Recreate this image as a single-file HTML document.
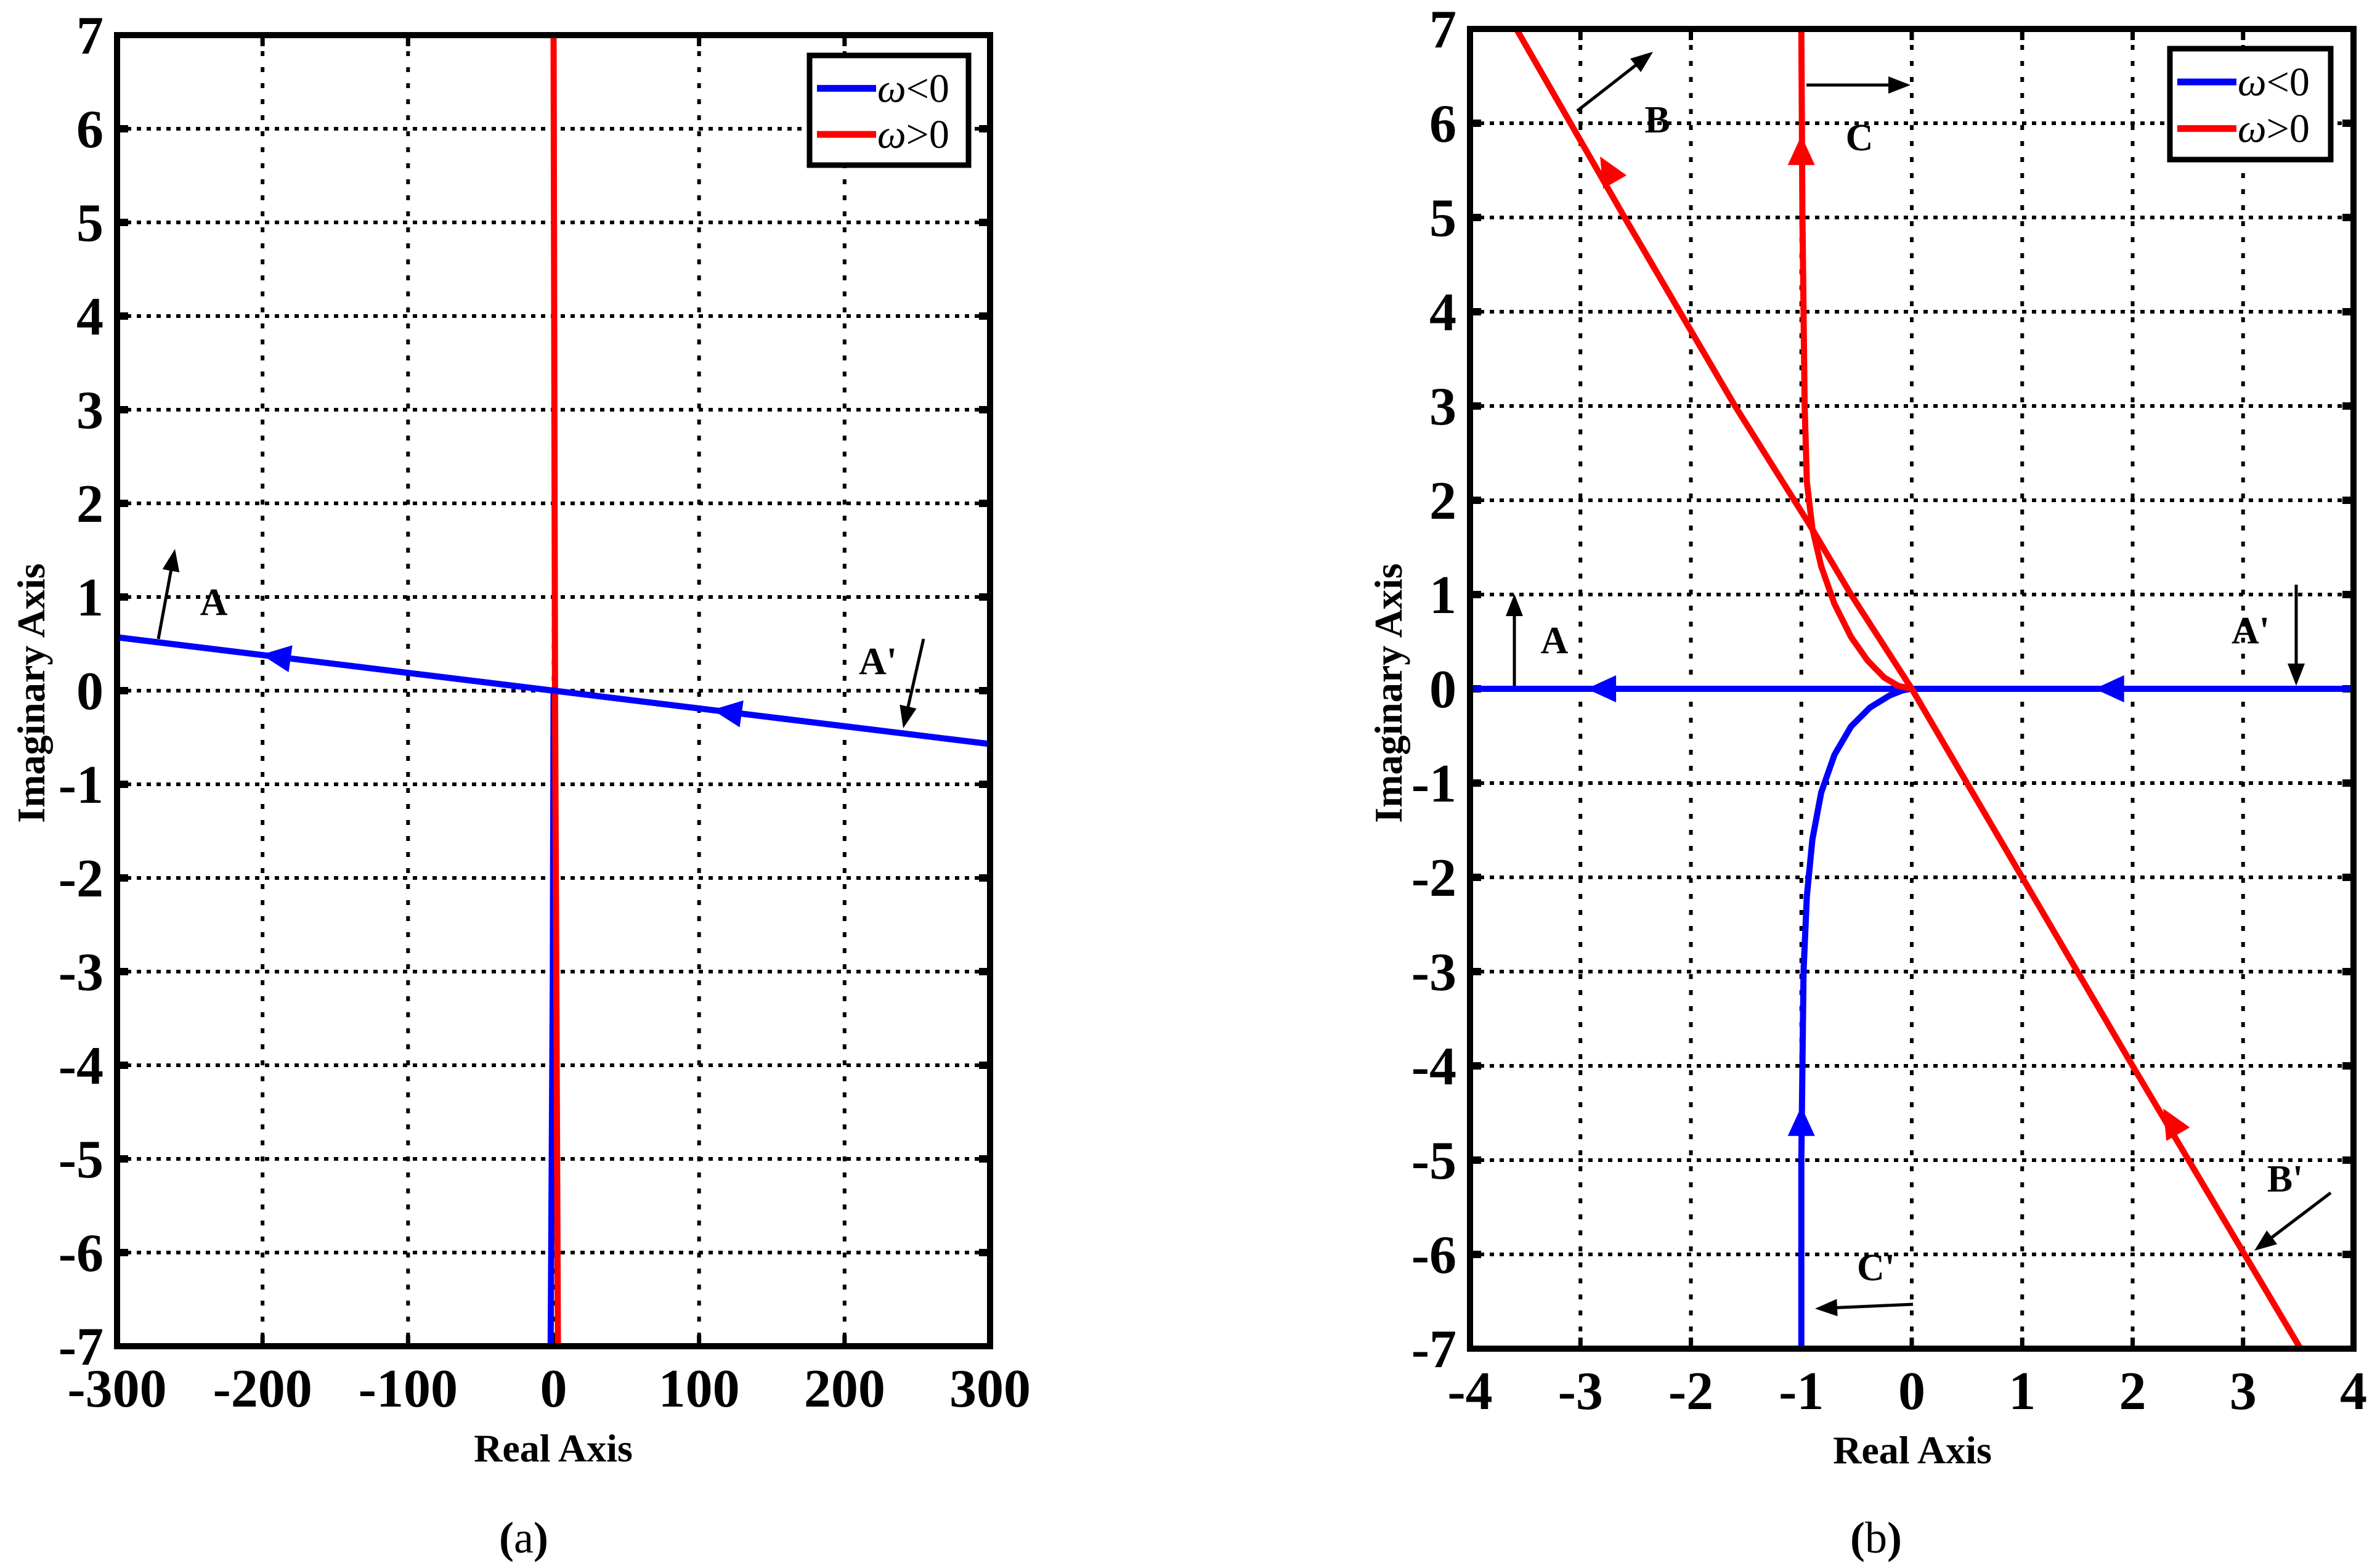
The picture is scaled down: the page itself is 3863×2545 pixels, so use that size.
<!DOCTYPE html>
<html><head><meta charset="utf-8"><style>
html,body{margin:0;padding:0;background:#fff;}
svg{display:block;}
text{font-family:"Liberation Serif","Times New Roman",Times,"DejaVu Serif",serif;font-weight:bold;}
</style></head><body>
<svg id="fig" width="3863" height="2545" viewBox="0 0 3863 2545" xmlns="http://www.w3.org/2000/svg"></svg>
<script>
// ---- data ----
const aXTicks=[-300,-200,-100,0,100,200,300];
const bXTicks=[-4,-3,-2,-1,0,1,2,3,4];
const yTicks=[-7,-6,-5,-4,-3,-2,-1,0,1,2,3,4,5,6,7];
// panel (a)
const aBlueLineX=[-300,300];
const aBlueLineY=[0.57,-0.57];
const aBlueVertX=[0,-0.5,-2];
const aBlueVertY=[0,-3,-7];
const aRedX=[0,1,3];
const aRedY=[7,0,-7];
const aArrowX=[-190,120];
// panel (b)
const bBlueHX=[-4,4];
const bBlueHY=[0,0];
const bBlueCX=[-1,-1,-0.99,-0.98,-0.95,-0.9,-0.82,-0.7,-0.55,-0.38,-0.2,-0.08,0];
const bBlueCY=[-7,-5,-4,-3,-2.2,-1.6,-1.1,-0.7,-0.4,-0.2,-0.07,-0.015,0];
const bRedBX=[-3.58,-2.6,-1.6,-0.93,-0.55,0,1,2,3.52];
const bRedBY=[7,5,3,1.75,1,0,-2,-4,-7];
const bRedCX=[-1,-0.99,-0.97,-0.95,-0.9,-0.82,-0.7,-0.55,-0.4,-0.25,-0.12,0];
const bRedCY=[7,5,3,2.2,1.7,1.3,0.9,0.55,0.3,0.12,0.03,0];
const bArrowsBlue=[[-2.8,0,180],[1.8,0,180],[-1,-4.6,-90]];
const bArrowsRed=[[-2.75,5.5,-120],[-1,5.7,-90],[2.35,-4.6,-120]];

const NS="http://www.w3.org/2000/svg";
const svg=document.getElementById('fig');
function el(tag,attrs,parent){const e=document.createElementNS(NS,tag);for(const k in attrs)e.setAttribute(k,attrs[k]);(parent||svg).appendChild(e);return e;}

function panel(id,L,R,T,B,xmin,xmax,xticks){
  const g=el('g',{});
  
  
  const sx=v=>L+(v-xmin)/(xmax-xmin)*(R-L);
  const sy=v=>B-(v+7)/14*(B-T);
  xticks.forEach(t=>{
    const x=sx(t);
    if(t!==xmin&&t!==xmax){const l=el('line',{x1:x,y1:T,x2:x,y2:B,stroke:'#000','stroke-width':6,'stroke-dasharray':'8 18'},g);
    
    el('line',{x1:x,y1:T,x2:x,y2:T+18,stroke:'#000','stroke-width':7},g);
    el('line',{x1:x,y1:B-18,x2:x,y2:B,stroke:'#000','stroke-width':7},g);}
    const tx=el('text',{x:x,y:B+98,'font-size':88,'text-anchor':'middle'},g);tx.textContent=t;
    
  });
  yTicks.forEach(t=>{
    const y=sy(t);
    if(t!==-7&&t!==7){const l=el('line',{x1:L,y1:y,x2:R,y2:y,stroke:'#000','stroke-width':6,'stroke-dasharray':'7 9'},g);
    
    el('line',{x1:L,y1:y,x2:L+18,y2:y,stroke:'#000','stroke-width':12},g);
    el('line',{x1:R-18,y1:y,x2:R,y2:y,stroke:'#000','stroke-width':12},g);}
    const tx=el('text',{x:L-22,y:y+30,'font-size':88,'text-anchor':'end'},g);tx.textContent=t;
    
  });
  return {g,sx,sy};
}
function poly(P,xs,ys,color,name){
  const pts=xs.map((x,i)=>P.sx(x)+','+P.sy(ys[i])).join(' ');
  const p=el('polyline',{points:pts,fill:'none',stroke:color,'stroke-width':10,'stroke-linejoin':'round'},P.g);
  
}
function dirArrow(P,x,y,ang,color){
  const cx=P.sx(x),cy=P.sy(y);
  const a=el('polygon',{points:'26,0 -22,-22 -22,22',fill:color,transform:`translate(${cx},${cy}) rotate(${ang})`},P.g);
  
}
function frame(P,L,R,T,B){
  const r=el('rect',{x:L,y:T,width:R-L,height:B-T,fill:'none',stroke:'#000','stroke-width':10},P.g);
  
}
function legend(P,x,y,w,h){
  const lg=el('g',{},P.g);
  
  el('rect',{x:x,y:y,width:w,height:h,fill:'#fff',stroke:'#000','stroke-width':9},lg);
  [['#0000ff','ω<0'],['#ff0000','ω>0']].forEach((d,i)=>{
    const yy=y+h*(0.3+0.42*i);
    const l=el('line',{x1:x+12,y1:yy,x2:x+108,y2:yy,stroke:d[0],'stroke-width':11},lg);
    
    const t=el('text',{x:x+110,y:yy+22,'font-size':66,style:'font-weight:normal'},lg);
    t.innerHTML='<tspan font-style="italic">ω</tspan>'+(i?'&gt;0':'&lt;0');
    
  });
}
function annArrow(P,x1,y1,x2,y2){
  const ang=Math.atan2(y2-y1,x2-x1)*180/Math.PI;
  const dx=Math.cos(ang*Math.PI/180)*28,dy=Math.sin(ang*Math.PI/180)*28;
  const l=el('line',{x1:x1,y1:y1,x2:x2-dx,y2:y2-dy,stroke:'#000','stroke-width':5},P.g);
  
  el('polygon',{points:'0,0 -36,-14 -36,14',fill:'#000',transform:`translate(${x2},${y2}) rotate(${ang})`},P.g);
}
function label(P,x,y,txt,size,name,anchor){
  const t=el('text',{x:x,y:y,'font-size':size,'text-anchor':anchor||'middle'},P.g);t.textContent=txt;
  return t;
}

// Panel (a)
const aL=190,aR=1607,aT=57,aB=2185;
const A=panel('panel-a',aL,aR,aT,aB,-300,300,aXTicks);
poly(A,aBlueVertX,aBlueVertY,'#0000ff','blue-vertical-locus');
poly(A,aRedX,aRedY,'#ff0000','red-locus');
poly(A,aBlueLineX,aBlueLineY,'#0000ff','blue-locus');
aArrowX.forEach(x=>dirArrow(A,x,0.57-(x+300)/600*1.14,188,'#0000ff'));
frame(A,aL,aR,aT,aB);
legend(A,1314,90,258,178);
annArrow(A,257,1037,284,891);
label(A,347,998,'A',62,'label-a');
label(A,1425,1094,"A'",62,'label-a-prime');
annArrow(A,1499,1037,1466,1182);
label(A,898,2372,'Real Axis',64,'x-axis-title');
const ya=label(A,0,0,'Imaginary Axis',64,'y-axis-title');ya.setAttribute('transform','translate(72,1125) rotate(-90)');
label(A,850,2520,'(a)',72,'panel-caption-a').innerHTML='(<tspan style="font-weight:normal">a</tspan>)';

// Panel (b)
const bL=2386,bR=3820,bT=47,bB=2189;
const Bp=panel('panel-b',bL,bR,bT,bB,-4,4,bXTicks);
poly(Bp,bBlueHX,bBlueHY,'#0000ff','blue-real-axis-locus');
poly(Bp,bBlueCX,bBlueCY,'#0000ff','blue-curve-locus');
poly(Bp,bRedBX,bRedBY,'#ff0000','red-line-locus');
poly(Bp,bRedCX,bRedCY,'#ff0000','red-curve-locus');
bArrowsBlue.forEach(a=>dirArrow(Bp,a[0],a[1],a[2],'#0000ff'));
bArrowsRed.forEach(a=>dirArrow(Bp,a[0],a[1],a[2],'#ff0000'));
frame(Bp,bL,bR,bT,bB);
legend(Bp,3522,79,261,180);
annArrow(Bp,2458,1113,2458,964);
label(Bp,2523,1060,'A',62,'label-a');
label(Bp,3653,1044,"A'",62,'label-a-prime');
annArrow(Bp,3727,949,3727,1113);
annArrow(Bp,2560,180,2683,84);
label(Bp,2690,215,'B',62,'label-b');
annArrow(Bp,2932,138,3101,138);
label(Bp,3018,244,'C',62,'label-c');
label(Bp,3709,1934,"B'",62,'label-b-prime');
annArrow(Bp,3783,1936,3659,2030);
label(Bp,3045,2078,"C'",62,'label-c-prime');
annArrow(Bp,3105,2117,2946,2124);
label(Bp,3104,2375,'Real Axis',64,'x-axis-title');
const yb=label(Bp,0,0,'Imaginary Axis',64,'y-axis-title');yb.setAttribute('transform','translate(2275,1125) rotate(-90)');
label(Bp,3045,2520,'(b)',72,'panel-caption-b').innerHTML='(<tspan style="font-weight:normal">b</tspan>)';
</script>
</body></html>
